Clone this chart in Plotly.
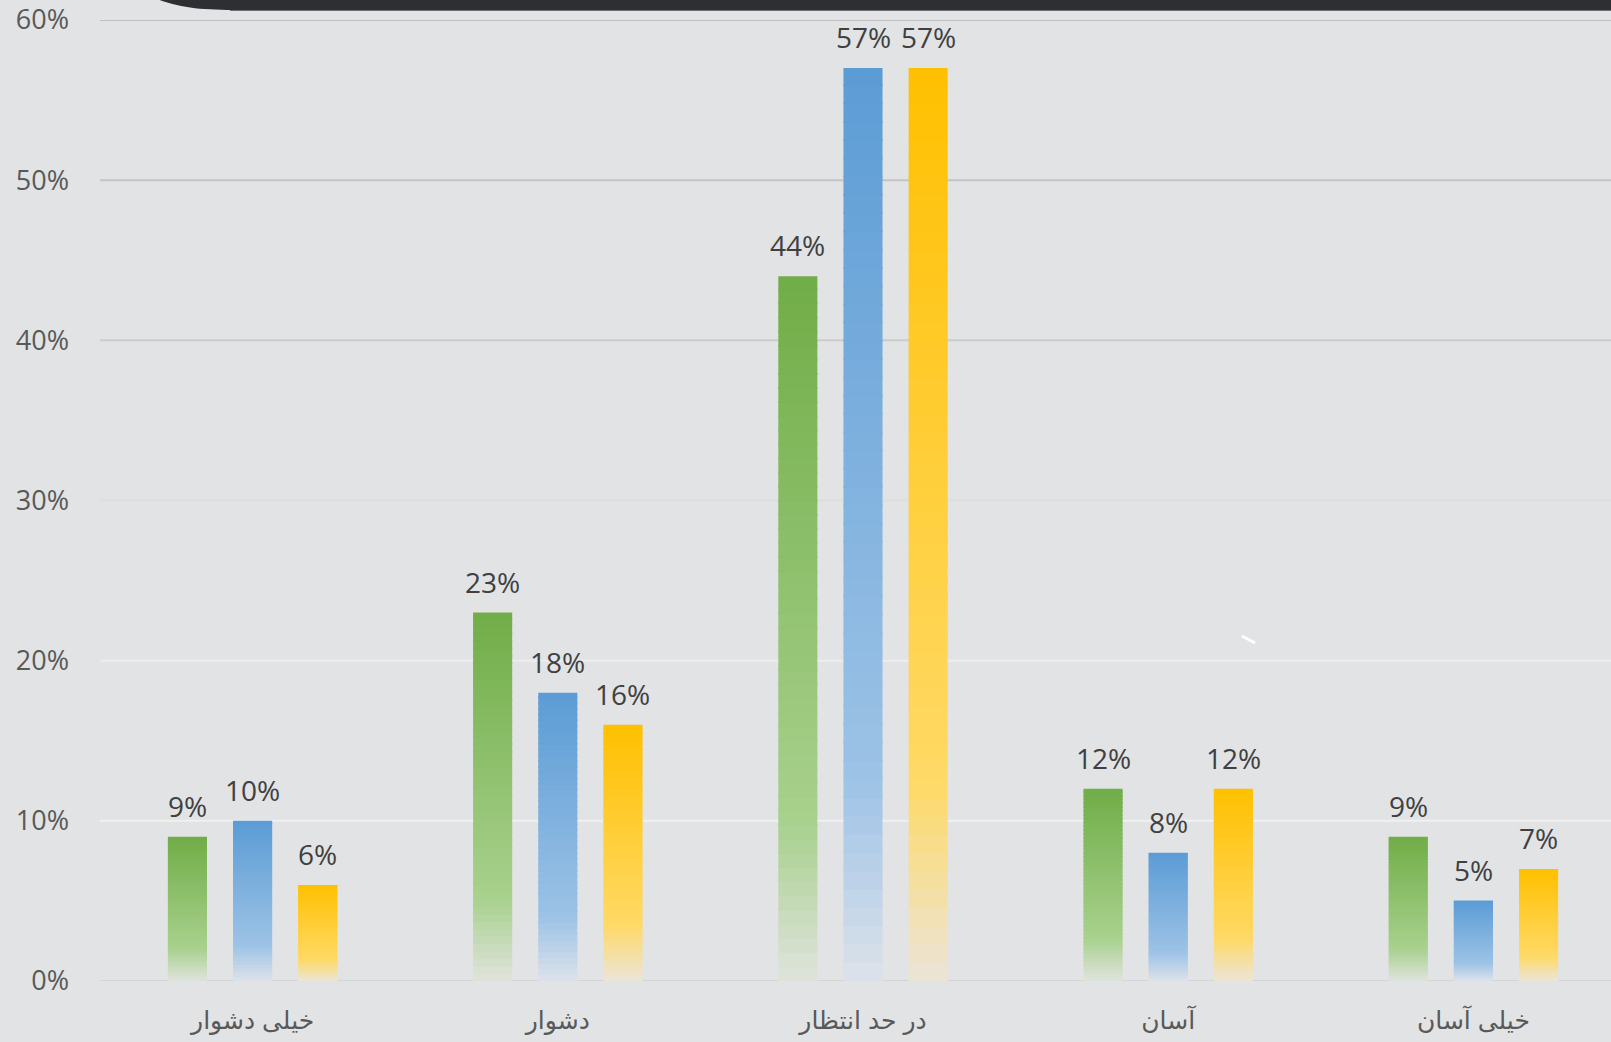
import plotly.graph_objects as go

categories = ["خیلی دشوار", "دشوار", "در حد انتظار", "آسان", "خیلی آسان"]
series_a = [9, 23, 44, 12, 9]     # green
series_b = [10, 18, 57, 8, 5]     # blue
series_c = [6, 16, 57, 12, 7]     # yellow
y_ticks = [0, 10, 20, 30, 40, 50, 60]
y_tick_labels = ["0%", "10%", "20%", "30%", "40%", "50%", "60%"]

# styles
top_colors = ["#70ad47", "#5b9bd5", "#ffc000"]
mid_colors = ["#a9d18e", "#9dc3e6", "#ffd966"]
bot_colors = ["#dfe3dd", "#dde2ea", "#ebe5d8"]
offsets = [-0.2775, -0.064, 0.1495]
bar_w = 0.128
grid_colors = ["#d3d4d6", "#f0f0f0", "#ededee", "#dfdedc", "#cbcbcd", "#c4c4c6", "#c0c0c2"]
BG = "#e2e3e5"

W, H = 1611, 1042
ML, MR, MT, MB = 100, 0, 20, 61
PW = W - ML - MR
PH = H - MT - MB
CAT_PX = 305.2


def hex2rgb(h):
    h = h.lstrip("#")
    return [int(h[i:i + 2], 16) for i in (0, 2, 4)]


def lerp(c1, c2, t):
    a, b = hex2rgb(c1), hex2rgb(c2)
    return "rgb(%d,%d,%d)" % tuple(round(a[i] + (b[i] - a[i]) * t) for i in range(3))


def grad(i, t):
    # t = 0 at top of bar, 1 at bottom
    if t < 0.78:
        return lerp(top_colors[i], mid_colors[i], t / 0.78)
    return lerp(mid_colors[i], bot_colors[i], (t - 0.78) / 0.22)


N = 50
EPS = 0.12
fig = go.Figure()
xs = list(range(len(categories)))
for si, vals in enumerate([series_a, series_b, series_c]):
    for k in range(N):
        t = 1 - (k + 0.5) / N
        extra = EPS if k < N - 1 else 0
        fig.add_trace(go.Bar(
            x=xs,
            y=[v / N + extra for v in vals],
            base=[v * k / N for v in vals],
            width=bar_w,
            offset=offsets[si],
            marker=dict(color=grad(si, t), line=dict(width=0)),
            showlegend=False,
            hoverinfo="skip",
        ))
    for ci, v in enumerate(vals):
        fig.add_annotation(
            x=ci + offsets[si] + bar_w / 2, y=v, xref="x", yref="y",
            text=f"{v}%", showarrow=False, yanchor="bottom", yshift=10,
            font=dict(family="Open Sans, Noto Sans, sans-serif", size=28, color="#404040"),
        )

shapes = []
for yv, gc in zip(y_ticks, grid_colors):
    shapes.append(dict(type="line", xref="paper", yref="y", x0=0, x1=1, y0=yv, y1=yv,
                       line=dict(color=gc, width=2), layer="below"))


def px2paper(px, py):
    return (px - ML) / PW, (H - MB - py) / PH


pts = [(152, -3), (178, 8), (200, 10), (240, 10), (1615, 10), (1615, -3)]
pp = [px2paper(*p) for p in pts]
path = "M %f,%f C %f,%f %f,%f %f,%f L %f,%f L %f,%f Z" % (
    pp[0] + pp[1] + pp[2] + pp[3] + pp[4] + pp[5])
shapes.append(dict(type="path", xref="paper", yref="paper", path=path,
                   fillcolor="#2e2f33", line=dict(width=0), layer="above"))
a = px2paper(230, 10.5)
b = px2paper(1615, 10.5)
shapes.append(dict(type="line", xref="paper", yref="paper", x0=a[0], y0=a[1], x1=b[0], y1=b[1],
                   line=dict(color="#6e6f72", width=1)))
c = px2paper(1242, 636)
d = px2paper(1255, 643)
shapes.append(dict(type="line", xref="paper", yref="paper", x0=c[0], y0=c[1], x1=d[0], y1=d[1],
                   line=dict(color="#ffffff", width=3)))

fig.update_layout(
    width=W, height=H,
    margin=dict(l=ML, r=MR, t=MT, b=MB, pad=0),
    paper_bgcolor=BG, plot_bgcolor=BG,
    barmode="overlay",
    showlegend=False,
    shapes=shapes,
    xaxis=dict(
        range=[-0.5, -0.5 + PW / CAT_PX],
        tickmode="array", tickvals=xs, ticktext=categories,
        showgrid=False, zeroline=False, showline=False, ticks="",
        tickfont=dict(family="Arial, DejaVu Sans, sans-serif", size=25, color="#595959"),
        ticklabelstandoff=22,
        ticklabeloverflow="allow",
        fixedrange=True,
    ),
    yaxis=dict(
        range=[0, 60],
        tickmode="array", tickvals=y_ticks, ticktext=y_tick_labels,
        showgrid=False, zeroline=False, showline=False, ticks="",
        tickfont=dict(family="Open Sans, Noto Sans, sans-serif", size=27, color="#595959"),
        ticklabelstandoff=30,
        ticklabeloverflow="allow",
        fixedrange=True,
    ),
)

fig.write_html("out.html", config={"displayModeBar": False})
